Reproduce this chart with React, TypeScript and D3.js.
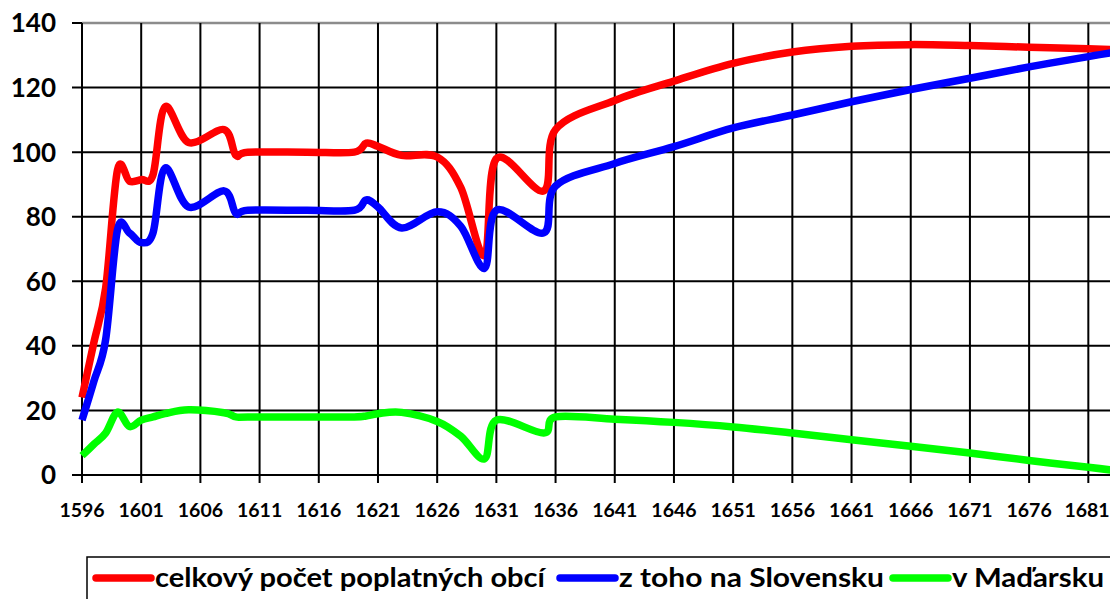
import React, { useEffect, useRef } from "react"
import * as d3 from "d3"

// years with readings (x axis)
const years = [
  1596, 1597, 1598, 1599, 1600, 1601, 1602, 1603, 1605, 1608, 1609, 1610, 1615, 1619, 1620,
  1621, 1623, 1626, 1628, 1630, 1631, 1635, 1636, 1641, 1646, 1651, 1656, 1661, 1666, 1671,
  1676, 1681, 1683,
]

// celkový počet poplatných obcí
const total = [
  24, 41, 58, 94.5, 91, 91.5, 93, 114, 103, 107, 99, 100, 100, 100, 102.8, 101.8, 99, 98.5,
  89, 68, 98, 88, 107, 116, 122, 127.5, 131, 132.8, 133.3, 133, 132.5, 132, 131.8,
]

// z toho na Slovensku
const slovakia = [
  17, 29, 42, 76, 75, 72, 75, 95, 83, 88, 81, 82, 82, 82, 85.2, 83, 76.5, 81.5, 77, 64, 82,
  75, 89.5, 96.5, 101.7, 107.5, 111.5, 115.6, 119.4, 122.9, 126.4, 129.6, 130.8,
]

// v Maďarsku
const hungary = [
  6, 9.5, 13, 19.5, 15, 17, 18, 19, 20.2, 19.3, 18, 18, 18, 18, 18.3, 19, 19.4, 16.6, 12, 5,
  17, 13, 18, 17.3, 16.3, 14.9, 13, 10.9, 8.9, 6.8, 4.5, 2.4, 1.5,
]

const seriesNames = ["celkový počet poplatných obcí", "z toho na Slovensku", "v Maďarsku"]
const seriesColors = ["#ff0000", "#0000ff", "#00ff00"]
const yTicks = [0, 20, 40, 60, 80, 100, 120, 140]
const xTicks = d3.range(1596, 1682, 5)

const W = 1110
const H = 599
const FONT = "Lato, 'Open Sans', sans-serif"

export default function App() {
  const svgRef = useRef<SVGSVGElement>(null)

  useEffect(() => {
    if (!svgRef.current) return
    const svg = d3.select(svgRef.current)
    svg.selectAll("*").remove()

    const left = 82
    const top = 23
    const bottom = 475

    const x = d3.scaleLinear().domain([1596, 1683]).range([left, 1112])
    const y = d3.scaleLinear().domain([0, 140]).range([bottom, top])

    // horizontal grid
    svg
      .append("g")
      .selectAll("line")
      .data(yTicks)
      .join("line")
      .attr("x1", left - 10)
      .attr("x2", W)
      .attr("y1", (d) => y(d))
      .attr("y2", (d) => y(d))
      .attr("stroke", "#000")
      .attr("stroke-width", 2)

    // plot border on top
    svg
      .append("line")
      .attr("x1", left)
      .attr("x2", W)
      .attr("y1", y(140))
      .attr("y2", y(140))
      .attr("stroke", "#8c8c8c")
      .attr("stroke-width", 2.5)

    // vertical grid + ticks
    svg
      .append("g")
      .selectAll("line")
      .data(xTicks)
      .join("line")
      .attr("x1", (d) => x(d))
      .attr("x2", (d) => x(d))
      .attr("y1", top)
      .attr("y2", bottom + 8)
      .attr("stroke", "#000")
      .attr("stroke-width", 2)

    // y labels
    svg
      .append("g")
      .selectAll("text")
      .data(yTicks)
      .join("text")
      .attr("x", 56)
      .attr("y", (d) => y(d))
      .attr("dy", "0.36em")
      .attr("text-anchor", "end")
      .attr("font-family", FONT)
      .attr("font-weight", 700)
      .attr("font-size", 26)
      .text((d) => d)

    // x labels (keep the last one inside the picture)
    svg
      .append("g")
      .selectAll("text")
      .data(xTicks)
      .join("text")
      .attr("x", (d) => Math.min(x(d), W - 23))
      .attr("y", 517)
      .attr("text-anchor", "middle")
      .attr("font-family", FONT)
      .attr("font-weight", 700)
      .attr("font-size", 19.5)
      .text((d) => d)

    // series lines
    const line = d3
      .line<number>()
      .x((_, i) => x(years[i]))
      .y((d) => y(d))
      .curve(d3.curveCardinal.tension(0))

    ;[total, slovakia, hungary].forEach((values, i) => {
      svg
        .append("path")
        .datum(values)
        .attr("fill", "none")
        .attr("stroke", seriesColors[i])
        .attr("stroke-width", 7.5)
        .attr("stroke-linejoin", "round")
        .attr("d", line)
    })

    // legend
    const legend = svg.append("g")
    legend
      .append("rect")
      .attr("x", 87)
      .attr("y", 557)
      .attr("width", W)
      .attr("height", 60)
      .attr("fill", "#fff")
      .attr("stroke", "#000")
      .attr("stroke-width", 1.5)

    const legendX = [96, 560, 893]
    const legendW = [390, 265, 152]
    seriesNames.forEach((name, i) => {
      legend
        .append("line")
        .attr("x1", legendX[i])
        .attr("x2", legendX[i] + 55)
        .attr("y1", 578)
        .attr("y2", 578)
        .attr("stroke", seriesColors[i])
        .attr("stroke-width", 7.5)
        .attr("stroke-linecap", "round")
      legend
        .append("text")
        .attr("x", legendX[i] + 59)
        .attr("y", 587)
        .attr("font-family", FONT)
        .attr("font-weight", 700)
        .attr("font-size", 26)
        .attr("textLength", legendW[i])
        .attr("lengthAdjust", "spacingAndGlyphs")
        .text(name)
    })
  }, [])

  return (
    <svg
      ref={svgRef}
      width={W}
      height={H}
      style={{ position: "absolute", left: 0, top: 0, background: "#fff" }}
    />
  )
}
